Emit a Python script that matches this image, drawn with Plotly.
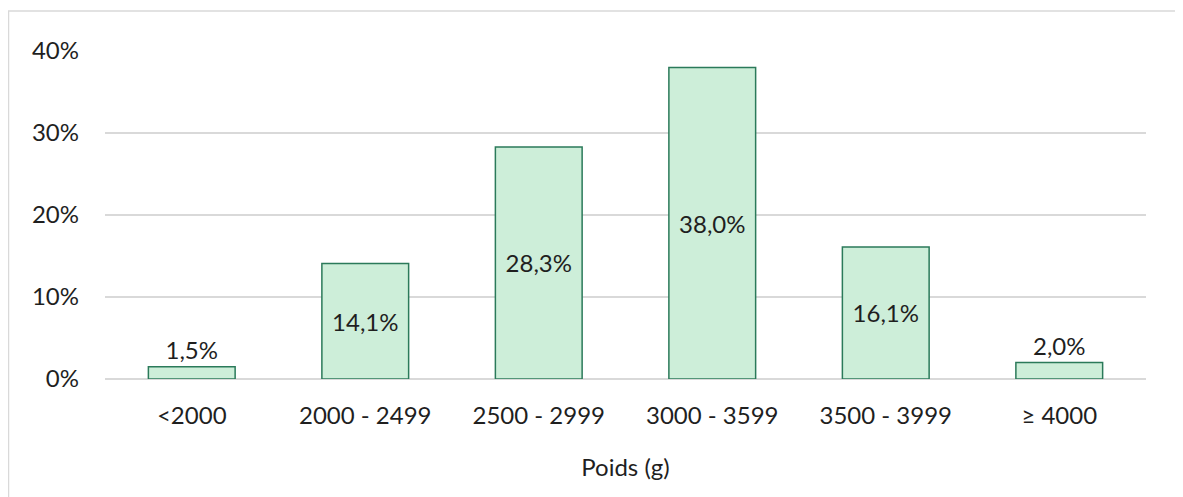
import plotly.graph_objects as go

# Répartition des poids de naissance
categories = ["<2000", "2000 - 2499", "2500 - 2999", "3000 - 3599", "3500 - 3999", "≥ 4000"]
values = [1.5, 14.1, 28.3, 38.0, 16.1, 2.0]
labels = ["1,5%", "14,1%", "28,3%", "38,0%", "16,1%", "2,0%"]
tick_vals = [0, 10, 20, 30, 40]
tick_text = ["0%", "10%", "20%", "30%", "40%"]

# la page ajoute une marge de 8 px autour de la figure
W, H = 1183, 497
L, R, T, B = 97, 45, 43, 126

fig = go.Figure()
fig.add_trace(go.Bar(
    x=categories,
    y=values,
    text=labels,
    textposition=["outside" if v < 5 else "inside" for v in values],
    insidetextanchor="middle",
    textfont=dict(color="#1F1F1F", size=24),
    cliponaxis=False,
    marker=dict(color="#CDEED9", line=dict(color="#2B7A5A", width=1.5)),
    width=0.5,
))

# cadre du graphique (coupé à droite et en bas)
pw, ph = W - L - R, H - T - B
fig.add_shape(type="rect", xref="paper", yref="paper",
              x0=(0.5 - L) / pw, x1=(W + 40 - L) / pw,
              y0=(H - B - H - 40) / ph, y1=(H - B - 3) / ph,
              line=dict(color="#D9D9D9", width=1.5), layer="below")

fig.update_layout(
    width=W, height=H,
    margin=dict(l=L, r=R, t=T, b=B),
    paper_bgcolor="white",
    plot_bgcolor="white",
    font=dict(family="Lato, 'Open Sans', sans-serif", size=24, color="#1F1F1F"),
    showlegend=False,
    xaxis=dict(
        title=dict(text="Poids (g)", standoff=31, font=dict(size=24)),
        showgrid=False, showline=False, ticks="",
        ticklabelstandoff=20,
    ),
    yaxis=dict(
        range=[0, 40], tickvals=tick_vals, ticktext=tick_text,
        showgrid=True, gridcolor="#D9D9D9", gridwidth=1.5,
        zeroline=True, zerolinecolor="#D9D9D9", zerolinewidth=1.5,
        ticks="", ticklabelstandoff=25,
    ),
)

fig.write_html("out.html")
